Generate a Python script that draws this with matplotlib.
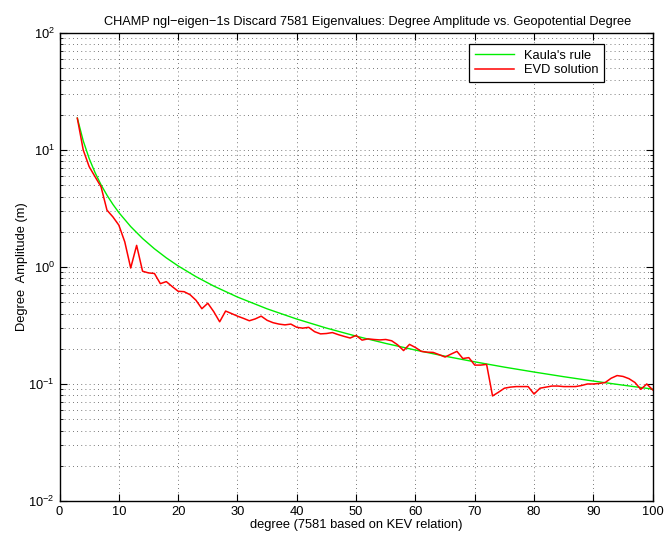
import matplotlib
matplotlib.use('Agg')
import matplotlib.pyplot as plt
import numpy as np

# degree amplitudes
degree = np.arange(3, 101)
evd = [18.7, 10.0, 7.2, 5.9, 4.85, 3.06, 2.68, 2.28, 1.64, 0.98,
       1.53, 0.92, 0.89, 0.88, 0.72, 0.75, 0.68, 0.62, 0.615, 0.58,
       0.52, 0.44, 0.49, 0.415, 0.34, 0.42, 0.40, 0.38, 0.364, 0.347,
       0.36, 0.38, 0.35, 0.334, 0.325, 0.32, 0.325, 0.305, 0.30, 0.305,
       0.28, 0.268, 0.27, 0.275, 0.264, 0.255, 0.247, 0.26, 0.237, 0.243,
       0.24, 0.238, 0.24, 0.234, 0.216, 0.193, 0.218, 0.205, 0.19, 0.187,
       0.186, 0.178, 0.17, 0.18, 0.19, 0.165, 0.168, 0.145, 0.145, 0.147,
       0.079, 0.085, 0.092, 0.094, 0.095, 0.095, 0.095, 0.082, 0.092, 0.094,
       0.096, 0.096, 0.095, 0.095, 0.095, 0.097, 0.1, 0.1, 0.101, 0.103,
       0.112, 0.118, 0.116, 0.111, 0.103, 0.09, 0.1, 0.089]

kaula_deg = [3, 4, 5, 6, 7, 8, 9, 10, 12, 14, 16, 18, 20, 23, 26, 30, 35, 40,
             45, 50, 55, 60, 65, 70, 75, 80, 85, 90, 95, 100]
kaula = [18.75, 11.96, 8.46, 6.39, 5.04, 4.11, 3.43, 2.92, 2.215, 1.752,
         1.431, 1.197, 1.021, 0.827, 0.687, 0.5535, 0.4387, 0.3588, 0.3004,
         0.2564, 0.2221, 0.1949, 0.1728, 0.1546, 0.1393, 0.1265, 0.1154,
         0.1059, 0.0977, 0.0904]

plt.rcParams['font.family'] = ['Liberation Sans', 'DejaVu Sans']
plt.rcParams['font.size'] = 9.3

fig = plt.figure(figsize=(6.65, 5.41), dpi=100)
ax = fig.add_axes([0.0895, 0.074, 0.892, 0.865])

ax.semilogy(kaula_deg, kaula, color='#00ee00', lw=1.0, label="Kaula's rule")
ax.semilogy(degree, evd, color='#ff0000', lw=1.1, label='EVD solution')

ax.set_xlim(0, 100)
ax.set_ylim(1e-2, 1e2)
ax.set_xticks(np.arange(0, 101, 10))

ax.grid(True, which='major', axis='x', color='0.3', linestyle=(0, (1, 4)), lw=0.6)
ax.grid(True, which='both', axis='y', color='0.3', linestyle=(0, (1, 4)), lw=0.6)
ax.tick_params(which='both', direction='in', top=True, right=True)
ax.tick_params(which='major', length=5, width=0.8)
ax.tick_params(which='minor', length=2.5, width=0.6)
ax.tick_params(axis='x', which='minor', bottom=False, top=False)
for s in ax.spines.values():
    s.set_linewidth(1.0)

ax.set_title('CHAMP ngl\u2212eigen\u22121s Discard 7581 Eigenvalues: Degree Amplitude vs. Geopotential Degree',
             fontsize=9.2, pad=6, x=0.52)
ax.set_xlabel('degree (7581 based on KEV relation)', labelpad=1)
ax.set_ylabel('Degree  Amplitude (m)', labelpad=0)

leg = ax.legend(loc='upper right', bbox_to_anchor=(0.925, 0.985), fancybox=False,
                edgecolor='black', framealpha=1, borderaxespad=0.3,
                handlelength=3.0, handletextpad=0.8, labelspacing=0.2,
                borderpad=0.45)
leg.get_frame().set_linewidth(0.9)

fig.savefig('out.png', dpi=100)
